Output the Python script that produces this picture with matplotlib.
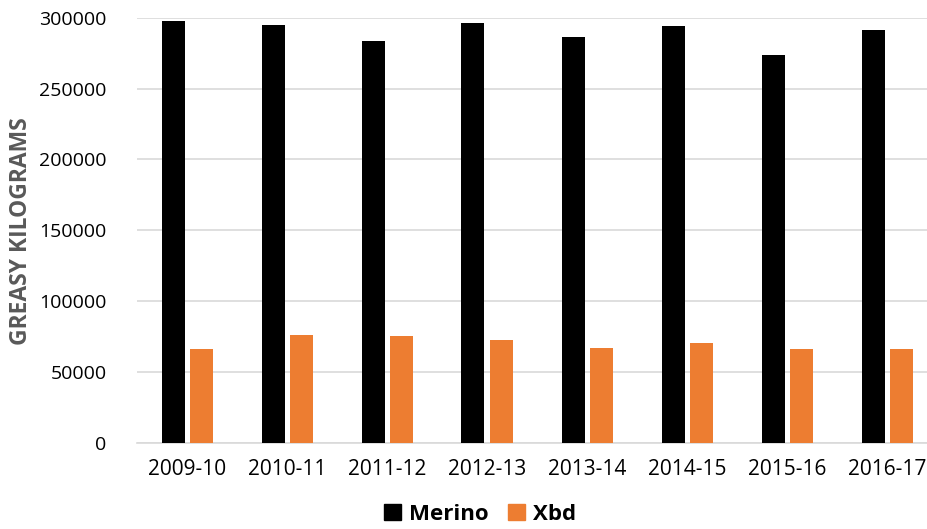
import numpy as np
import matplotlib
matplotlib.use("Agg")
import matplotlib.pyplot as plt
from matplotlib.patches import Patch

# wool production by season (greasy kg)
seasons = ["2009-10", "2010-11", "2011-12", "2012-13",
           "2013-14", "2014-15", "2015-16", "2016-17"]
merino = [297500, 295000, 283600, 296500, 286400, 294400, 274000, 291500]
xbd = [66000, 76000, 75400, 72500, 66900, 70700, 65800, 65800]

plt.rcParams['font.family'] = ['Open Sans', 'DejaVu Sans']

fig = plt.figure(figsize=(9.27, 5.29), dpi=100)
ax = fig.add_axes([137 / 927, (529 - 442.7) / 529, 800 / 927, 425 / 529])

x = np.arange(len(seasons))
w = 0.23
ax.bar(x - 0.14, merino, width=w, color="black", zorder=3)
ax.bar(x + 0.14, xbd, width=w, color="#ed7d31", zorder=3)

ax.set_xlim(-0.5, len(seasons) - 0.5)
ax.set_ylim(0, 300000)
ax.set_yticks(range(0, 300001, 50000))
ax.set_xticks(x)
ax.set_xticklabels(seasons)
ax.tick_params(axis="both", length=0, labelsize=14, colors="black")
ax.tick_params(axis="x", labelsize=15, pad=12)
ax.tick_params(axis="y", pad=22)

ax.yaxis.grid(True, color="#d9d9d9", linewidth=1.2, zorder=0)
for side in ["top", "right", "left"]:
    ax.spines[side].set_visible(False)
ax.spines["bottom"].set_color("#d9d9d9")
ax.spines["bottom"].set_linewidth(1.2)

fig.text(21 / 927, 1 - 231 / 529, "GREASY KILOGRAMS", rotation=90, ha="center", va="center",
         fontsize=16.5, fontweight="bold", color="#595959")

handles = [Patch(color="black", label="Merino"), Patch(color="#ed7d31", label="Xbd")]
leg = fig.legend(handles=handles, loc="center", bbox_to_anchor=(480 / 927, 1 - 514 / 529),
                 ncol=2, frameon=False, handlelength=0.75, handleheight=0.75,
                 handletextpad=0.35, columnspacing=0.9,
                 prop={"size": 16, "weight": "bold"})

fig.savefig("out.png", dpi=100)
